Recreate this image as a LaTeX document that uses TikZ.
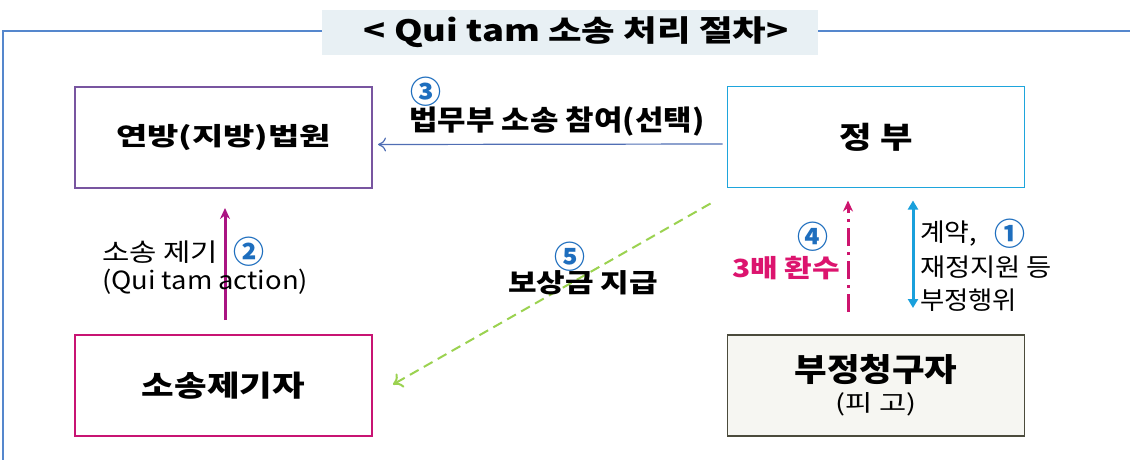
\documentclass[tikz,border=0pt]{standalone}
\usepackage{fontspec}
\usepackage{graphicx}
\setmainfont{Noto Sans CJK KR}
\usetikzlibrary{arrows.meta,calc}
\definecolor{framec}{RGB}{85,135,205}
\definecolor{titlebg}{RGB}{232,240,244}
\definecolor{courtc}{RGB}{120,85,160}
\definecolor{govc}{RGB}{30,165,220}
\definecolor{plainc}{RGB}{200,20,115}
\definecolor{defc}{RGB}{75,75,60}
\definecolor{deffill}{RGB}{246,246,242}
\definecolor{arr3c}{RGB}{80,110,180}
\definecolor{arr2c}{RGB}{170,20,130}
\definecolor{arr4c}{RGB}{205,20,110}
\definecolor{arr1c}{RGB}{25,160,220}
\definecolor{arr5c}{RGB}{155,210,80}
\definecolor{numc}{RGB}{30,110,190}
\definecolor{redc}{RGB}{220,20,110}
\newcommand{\fw}[3]{\resizebox{#1}{\height}{\fontsize{#2}{#2}\selectfont #3}}
\newcommand{\fwb}[3]{\resizebox{#1}{\height}{\fontsize{#2}{#2}\selectfont\bfseries #3}}
\begin{document}
\begin{tikzpicture}[x=1pt,y=-1pt,
  box/.style={draw, line width=1.8pt, minimum width=297pt, minimum height=101pt, inner sep=0pt, outer sep=0pt, fill=white, align=center},
  lbl/.style={inner sep=0pt, outer sep=0pt},
  num/.style={inner sep=0pt, outer sep=0pt, text=numc, font=\fontsize{31}{31}\selectfont\bfseries}]
\useasboundingbox (0,0) rectangle (1130,459);
% frame and title
\fill[titlebg] (322,10) rectangle (818,55);
\draw[framec, line width=1.5pt] (3,460) -- (3,31) -- (322,31);
\draw[framec, line width=1.5pt] (818,31) -- (1131,31);
\node[inner sep=0pt] (title) at (576,32) {\resizebox*{425pt}{31pt}{\bfseries < Qui tam 소송 처리 절차>}};
% boxes
\node[box, draw=courtc] (court) at (223.5,137.5) {\fwb{215pt}{25}{연방(지방)법원}};
\node[box, draw=govc] (gov) at (876,137) {\fwb{73pt}{30}{정 부}};
\node[box, draw=plainc] (plain) at (223.5,385.5) {\fwb{163pt}{29}{소송제기자}};
\node[box, draw=defc, fill=deffill] (def) at (876,385.5) {\fwb{163pt}{32}{부정청구자}\\[7pt]\fw{81pt}{23}{(피 고)}};
% arrow 3
\draw[arr3c, line width=1.2pt, -{To[length=8pt,width=14pt]}, shorten <=5pt, shorten >=6pt] ($(gov.west)+(0,7)$) -- ($(court.east)+(0,7)$);
\node[num] (n3) at (426,92) {③};
\node[lbl] (t3) at (557,122) {\fwb{295pt}{28}{법무부 소송 참여(선택)}};
% arrow 2
\draw[arr2c, line width=3pt, -{Stealth[length=11pt,width=10pt]}, shorten >=20pt, shorten <=15pt] (plain.north -| 225,0) -- (court.south -| 225,0);
\node[lbl, anchor=west] (t2a) at (102,252) {\fw{116pt}{25}{소송 제기}};
\node[num] (n2) at (249,252) {②};
\node[lbl, anchor=west] (t2b) at (102,282) {\fw{206pt}{25}{(Qui tam action)}};
% arrow 5
\draw[arr5c, line width=2pt, dash pattern=on 10pt off 6pt, -{To[length=9pt,width=16pt]}] ($(gov.south west)+(-17,16)$) -- ($(plain.east)+(21,-1)$);
\node[num] (n5) at (570,257) {⑤};
\node[lbl] (t5) at (583,283) {\fwb{150pt}{26}{보상금 지급}};
% arrow 4
\draw[arr4c, line width=3pt, dash pattern=on 18pt off 6pt on 3pt off 6pt, -{Stealth[length=11pt,width=10pt]}, shorten >=13pt, shorten <=23pt] ($(def.north)+(-28,0)$) -- ($(gov.south)+(-28,0)$);
\node[num] (n4) at (813,237) {④};
\node[lbl, text=redc] (t4) at (786,268) {\fwb{108pt}{25}{3배 환수}};
% arrow 1
\draw[arr1c, line width=3pt, {Triangle[length=9pt,width=10pt]}-{Triangle[length=9pt,width=10pt]}, shorten >=13pt, shorten <=27pt] ($(def.north)+(37,0)$) -- ($(gov.south)+(37,0)$);
\node[lbl, anchor=west] (t1a) at (920,234) {\fw{57pt}{25}{계약,}};
\node[num] (n1) at (1010,234) {①};
\node[lbl, anchor=west] (t1b) at (920,267) {\fw{132pt}{25}{재정지원 등}};
\node[lbl, anchor=west] (t1c) at (920,300) {\fw{97pt}{25}{부정행위}};
\end{tikzpicture}
\end{document}
